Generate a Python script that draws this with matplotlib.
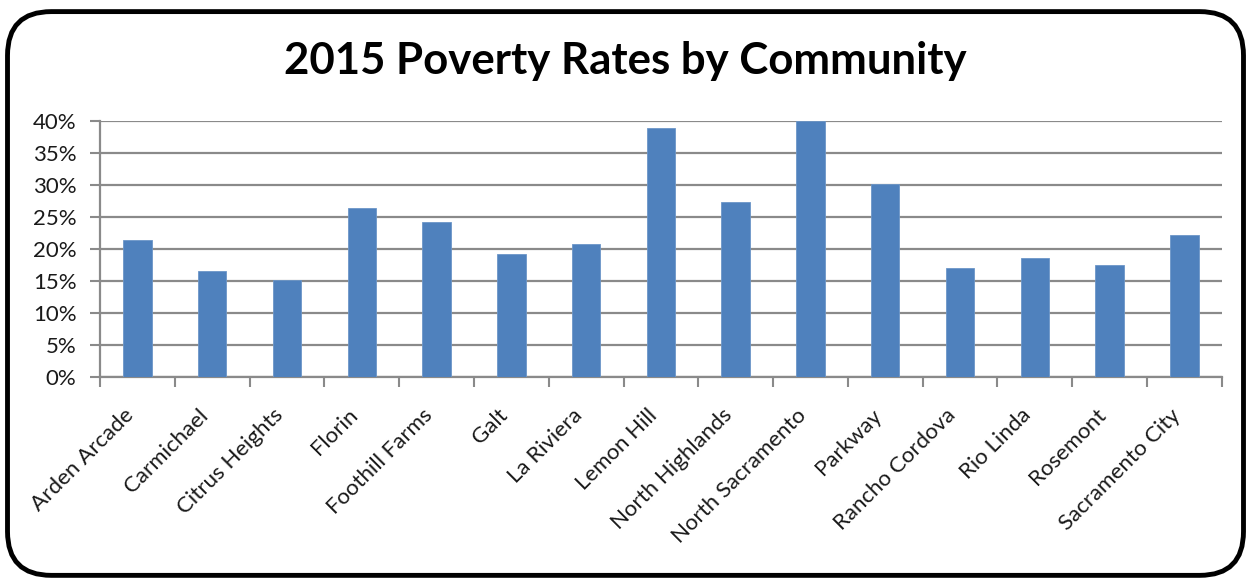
import numpy as np
import matplotlib.pyplot as plt
from matplotlib.patches import FancyBboxPatch
from matplotlib.ticker import PercentFormatter

# Poverty rate (%) per community, 2015
communities = ["Arden Arcade", "Carmichael", "Citrus Heights", "Florin", "Foothill Farms",
               "Galt", "La Riviera", "Lemon Hill", "North Highlands", "North Sacramento",
               "Parkway", "Rancho Cordova", "Rio Linda", "Rosemont", "Sacramento City"]
poverty_rate = [21.4, 16.5, 15.2, 26.4, 24.2,
                19.2, 20.8, 38.8, 27.3, 40.0,
                30.1, 17.1, 18.6, 17.5, 22.1]
y_ticks = [0, 5, 10, 15, 20, 25, 30, 35, 40]

plt.rcParams['font.family'] = ['Lato', 'DejaVu Sans']

fig = plt.figure(figsize=(12.51, 5.80), dpi=100)

# rounded black frame round the whole chart
frame = FancyBboxPatch((0.006, 0.008), 0.988, 0.972,
                       boxstyle="round,pad=0,rounding_size=0.035",
                       transform=fig.transFigure, facecolor='none',
                       edgecolor='black', linewidth=3.5, mutation_aspect=2.16, zorder=-1)
fig.patches.append(frame)

ax = fig.add_axes([0.08, 0.3495, 0.8966, 0.4425])
ax.patch.set_alpha(0)
x = np.arange(len(communities))
ax.bar(x, poverty_rate, width=0.38, color='#4F81BD', edgecolor='#6C96C8', linewidth=0.6, zorder=3)

ax.set_xlim(-0.5, len(communities) - 0.5)
ax.set_ylim(0, 40)
ax.set_yticks(y_ticks)
ax.yaxis.set_major_formatter(PercentFormatter(decimals=0))
ax.grid(axis='y', color='#8A8A8A', linewidth=1.6, zorder=0)

ax.set_xticks(x)
ax.set_xticklabels(communities, rotation=45, ha='right', fontsize=16, color='#1A1A1A')
ax.set_xticks(np.arange(-0.5, len(communities)), minor=True)
ax.tick_params(axis='x', which='major', length=0, pad=20)
ax.tick_params(axis='x', which='minor', length=7, width=1.5, color='#8A8A8A', direction='out')
ax.tick_params(axis='y', length=7, width=1.5, color='#8A8A8A', labelsize=16, pad=10,
               labelcolor='#1A1A1A')

for side in ['top', 'right']:
    ax.spines[side].set_visible(False)
for side in ['left', 'bottom']:
    ax.spines[side].set_color('#8A8A8A')
    ax.spines[side].set_linewidth(1.6)

fig.text(0.5, 0.895, "2015 Poverty Rates by Community", ha='center', va='center',
         fontsize=31.5, fontweight='bold')

fig.savefig('out.png', dpi=100)
